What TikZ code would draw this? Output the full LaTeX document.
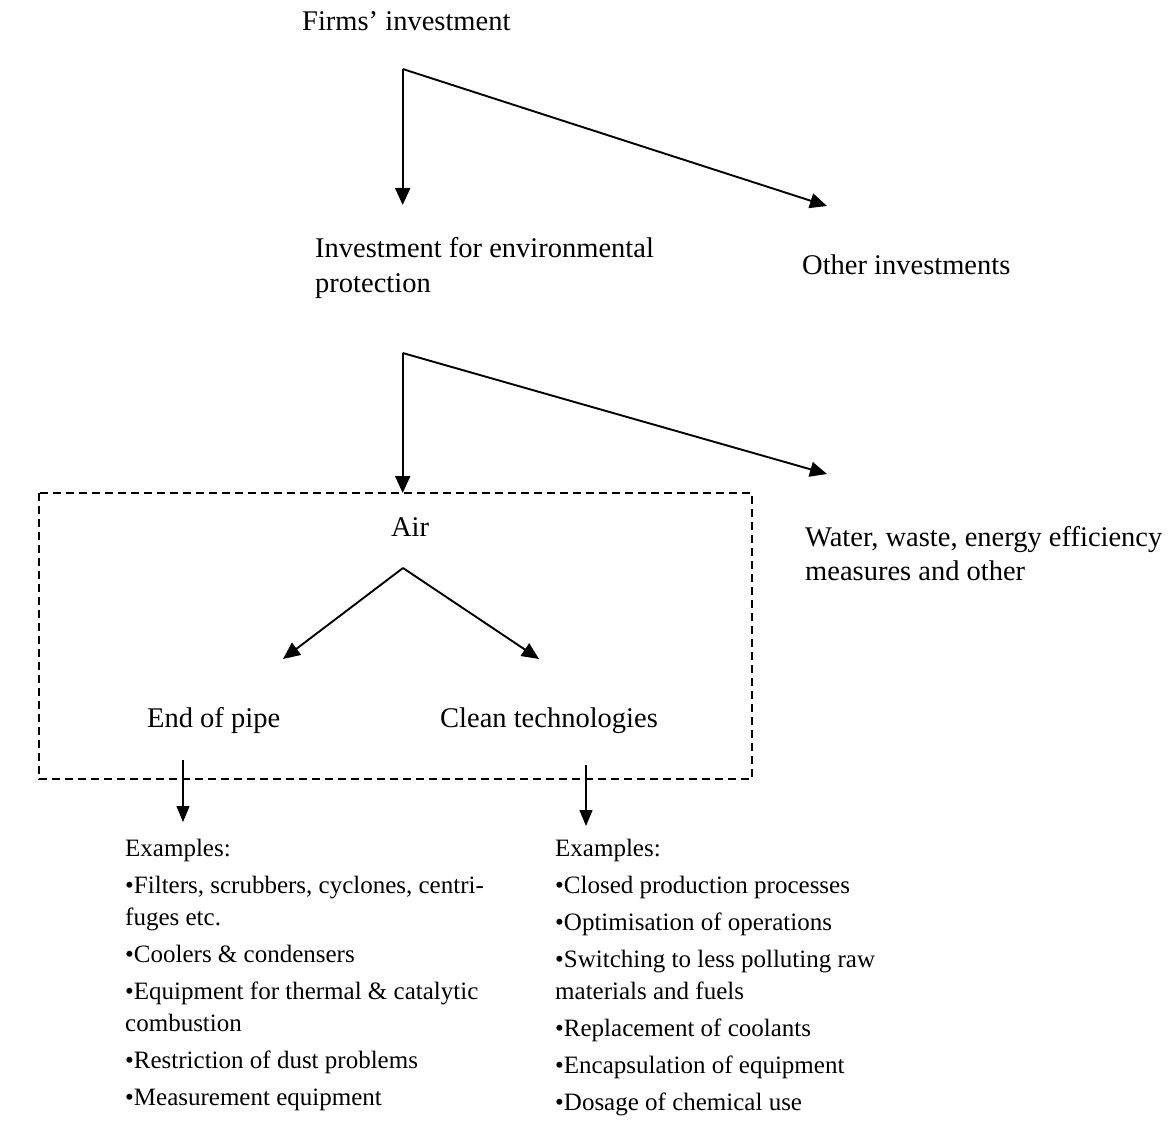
\documentclass[tikz,border=0pt]{standalone}
\usepackage{fontspec}
\setmainfont{Liberation Serif}
\usetikzlibrary{arrows.meta}
\tikzset{
  lbl/.style={anchor=base west, inner sep=0pt, font=\fontsize{28.5}{34}\selectfont},
  arr/.style={line width=1.9pt, -{Triangle[length=17pt,width=15pt]}},
  thinarr/.style={line width=1.3pt, -{Triangle[length=16pt,width=13pt]}},
  dashbox/.style={line width=1.8pt, dash pattern=on 8pt off 5pt}
}
\newcommand{\exfont}{\fontsize{25}{32}\selectfont}
\newcommand{\nb}{\\[5pt]}
\begin{document}
\begin{tikzpicture}[x=1pt,y=-1pt]
\useasboundingbox (0,0) rectangle (1175,1126);
% texts
\node[lbl] (firms) at (302,31) {Firms’ investment};
\node[lbl] (env) at (315,258) {\parbox[t]{400pt}{\fontsize{28.5}{35}\selectfont Investment for environmental\\protection}};
\node[lbl] (other) at (802,274) {Other investments};
\node[lbl] (water) at (805,546) {\parbox[t]{400pt}{\fontsize{28.5}{34}\selectfont Water, waste, energy efficiency\\measures and other}};
\node[lbl, anchor=base] (air) at (410,536) {Air};
\node[lbl] (eop) at (147,727) {End of pipe};
\node[lbl] (clean) at (440,727) {Clean technologies};
\node[lbl] (exl) at (125,856) {\parbox[t]{420pt}{\exfont Examples:\nb
•Filters, scrubbers, cyclones, centri-\\
fuges etc.\nb
•Coolers \& condensers\nb
•Equipment for thermal \& catalytic\\
combustion\nb
•Restriction of dust problems\nb
•Measurement equipment}};
\node[lbl] (exr) at (555,856) {\parbox[t]{420pt}{\exfont Examples:\nb
•Closed production processes\nb
•Optimisation of operations\nb
•Switching to less polluting raw\\
materials and fuels\nb
•Replacement of coolants\nb
•Encapsulation of equipment\nb
•Dosage of chemical use}};
% coordinates
\coordinate (v1) at (402.7,69);
\coordinate (t1a) at (402.7,205);
\coordinate (t1b) at (827,206);
\coordinate (v2) at (402.7,353);
\coordinate (t2a) at (402.7,493);
\coordinate (t2b) at (827,474);
\coordinate (v3) at (403,568);
\coordinate (t3a) at (283,659);
\coordinate (t3b) at (539,659);
\coordinate (s4a) at (183,760);
\coordinate (t4a) at (183,822);
\coordinate (s4b) at (586,765);
\coordinate (t4b) at (586,826);
% connectors
\draw[arr] (v1) -- (t1a);
\draw[arr] (v1) -- (t1b);
\draw[arr] (v2) -- (t2a);
\draw[arr] (v2) -- (t2b);
\draw[arr] (v3) -- (t3a);
\draw[arr] (v3) -- (t3b);
\draw[thinarr] (s4a) -- (t4a);
\draw[thinarr] (s4b) -- (t4b);
% dashed box
\draw[dashbox] (39,493) rectangle (752,779);
\end{tikzpicture}
\end{document}
